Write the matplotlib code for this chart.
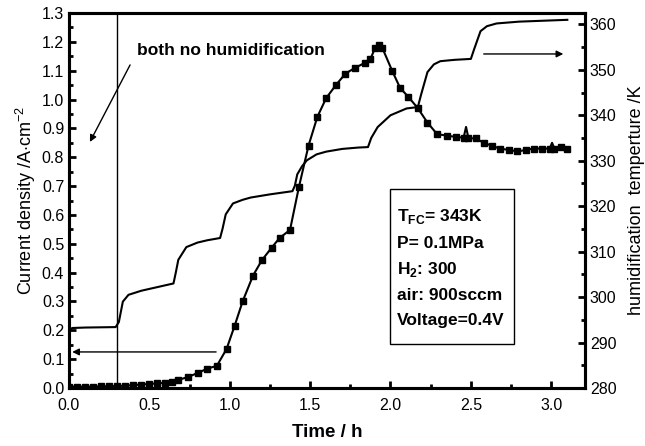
import matplotlib
matplotlib.use("Agg")
import matplotlib.pyplot as plt
from matplotlib.ticker import MultipleLocator, FormatStrFormatter
from matplotlib.patches import Rectangle

plt.rcParams['font.family'] = ['Liberation Sans', 'DejaVu Sans']
plt.rcParams['mathtext.fontset'] = 'custom'
plt.rcParams['mathtext.rm'] = 'Liberation Sans'
plt.rcParams['mathtext.bf'] = 'Liberation Sans:bold'

# Current density (A/cm^2) vs time (h)
t_cur = [0.00, 0.05, 0.10, 0.15, 0.20, 0.25, 0.30, 0.35, 0.40, 0.45, 0.50, 0.55,
         0.60, 0.64, 0.68, 0.74, 0.80, 0.86, 0.92, 0.98, 1.03, 1.08, 1.145, 1.20,
         1.26, 1.31, 1.375, 1.43, 1.49, 1.545, 1.60, 1.66, 1.72, 1.78, 1.84, 1.875,
         1.905, 1.93, 1.95, 2.01, 2.06, 2.11, 2.17, 2.23, 2.29, 2.35, 2.41, 2.455,
         2.47, 2.485, 2.53, 2.58, 2.63, 2.68, 2.74, 2.79, 2.84, 2.89, 2.94, 2.99,
         3.005, 3.02, 3.06, 3.10]
current = [0.005, 0.005, 0.004, 0.005, 0.006, 0.006, 0.007, 0.008, 0.010, 0.012, 0.014, 0.016,
           0.018, 0.020, 0.028, 0.038, 0.052, 0.067, 0.077, 0.135, 0.215, 0.300, 0.390, 0.443,
           0.486, 0.520, 0.548, 0.696, 0.840, 0.940, 1.005, 1.050, 1.090, 1.110, 1.127, 1.140,
           1.180, 1.190, 1.178, 1.100, 1.040, 1.010, 0.970, 0.920, 0.880, 0.875, 0.870, 0.868,
           0.905, 0.866, 0.865, 0.850, 0.840, 0.830, 0.825, 0.820, 0.825, 0.830, 0.830, 0.830,
           0.850, 0.830, 0.835, 0.830]
spike_idx = [48, 60]

# Humidification temperature (K) vs time (h)
t_temp = [0.00, 0.02, 0.10, 0.29, 0.31, 0.335, 0.37, 0.45, 0.55, 0.65, 0.665, 0.68,
          0.73, 0.80, 0.86, 0.94, 0.955, 0.975, 1.02, 1.08, 1.13, 1.25, 1.39, 1.405,
          1.42, 1.45, 1.48, 1.54, 1.60, 1.70, 1.80, 1.86, 1.88, 1.92, 2.00, 2.10,
          2.17, 2.19, 2.23, 2.27, 2.31, 2.40, 2.50, 2.52, 2.56, 2.60, 2.66, 2.80,
          2.95, 3.10]
temp = [292.6, 293.2, 293.3, 293.4, 294.5, 299.0, 300.5, 301.4, 302.2, 303.0, 305.5, 308.2,
        311.0, 312.0, 312.5, 313.0, 315.0, 318.2, 320.6, 321.4, 321.9, 322.6, 323.3, 324.5,
        327.0, 328.8, 330.1, 331.4, 332.0, 332.6, 332.9, 333.0, 335.0, 337.4, 340.0, 341.5,
        341.8, 344.5, 349.5, 351.2, 351.9, 352.2, 352.4, 354.5, 358.5, 359.6, 360.2, 360.6,
        360.8, 361.0]

fig = plt.figure(figsize=(6.45, 4.46), dpi=100)
ax = fig.add_axes([69/645, 58/446, 516/645, 375/446])
ax2 = ax.twinx()

marks = [i for i in range(len(t_cur)) if i not in spike_idx]
ax.plot(t_cur, current, color='black', lw=1.5, marker='s', markersize=4.5, markevery=marks)
ax2.plot(t_temp, temp, color='black', lw=1.5)

ax.axvline(0.3, color='black', lw=1.0)

ax.set_xlim(0, 3.21)
ax.set_ylim(0, 1.3)
ax2.set_ylim(280, 362.5)

ax.xaxis.set_major_locator(MultipleLocator(0.5))
ax.xaxis.set_minor_locator(MultipleLocator(0.25))
ax.yaxis.set_major_locator(MultipleLocator(0.1))
ax.yaxis.set_minor_locator(MultipleLocator(0.05))
ax2.yaxis.set_major_locator(MultipleLocator(10))
ax2.yaxis.set_minor_locator(MultipleLocator(5))

ax.xaxis.set_major_formatter(FormatStrFormatter('%.1f'))
ax.yaxis.set_major_formatter(FormatStrFormatter('%.1f'))

for a in (ax, ax2):
    for s in a.spines.values():
        s.set_linewidth(2.2)
ax.tick_params(axis='both', which='major', direction='in', length=5, width=2, labelsize=11.5)
ax.tick_params(axis='x', which='major', pad=7)
ax.tick_params(axis='both', which='minor', direction='in', length=3, width=2)
ax.tick_params(top=False, right=False, which='both')
ax2.tick_params(axis='y', which='major', direction='in', length=5, width=2, labelsize=11.5)
ax2.tick_params(axis='y', which='minor', direction='in', length=3, width=2)

ax.set_xlabel('Time / h', fontsize=13.5, fontweight='bold', labelpad=8)
ax.set_ylabel(r'Current density /A$\cdot$cm$^{-2}$', fontsize=13, labelpad=3)
ax2.set_ylabel('humidification  temperture /K', fontsize=13, labelpad=8)

ax.text(0.42, 1.17, 'both no humidification', fontsize=12.5, fontweight='bold',
        va='center', ha='left')

arrow = dict(arrowstyle='-|>', color='black', lw=1.0, mutation_scale=10, shrinkA=0, shrinkB=0)
ax.annotate('', xy=(0.13, 0.853), xytext=(0.38, 1.12), arrowprops=arrow)
ax.annotate('', xy=(0.02, 0.125), xytext=(0.915, 0.125), arrowprops=arrow)
ax.annotate('', xy=(3.075, 1.158), xytext=(2.58, 1.158), arrowprops=arrow)

ax.add_patch(Rectangle((0.622, 0.117), 0.240, 0.414, transform=ax.transAxes,
                       fill=False, edgecolor='black', lw=1.0, zorder=5))
lines = [r'T$_{\mathbf{FC}}$= 343K', 'P= 0.1MPa', r'H$_{\mathbf{2}}$: 300',
         'air: 900sccm', 'Voltage=0.4V']
ys = [0.456, 0.385, 0.315, 0.247, 0.179]
for s, y in zip(lines, ys):
    ax.text(0.636, y, s, transform=ax.transAxes, fontsize=12.5, fontweight='bold',
            va='center', ha='left')

fig.savefig('out.png', dpi=100)
